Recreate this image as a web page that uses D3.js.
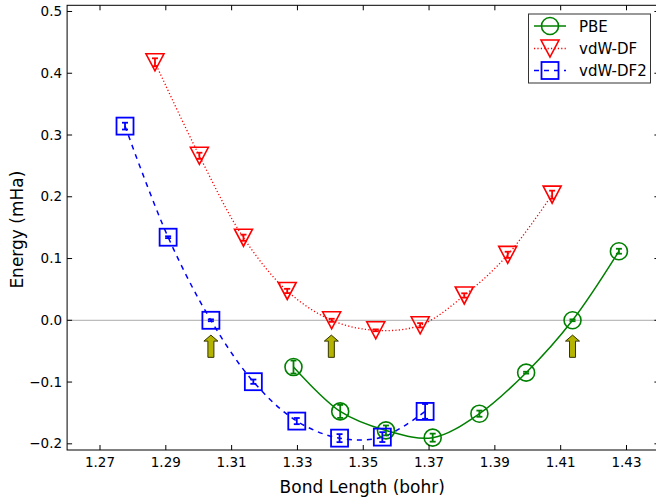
<!DOCTYPE html>
<html>
<head>
<meta charset="utf-8">
<script src="https://cdn.jsdelivr.net/npm/d3@7"></script>
<style>
  html, body { margin: 0; padding: 0; background: #fff; }
  svg { display: block; font-family: "DejaVu Sans", sans-serif; }
</style>
</head>
<body>
<div id="chart"></div>
<script>
// ---- data ----
const seriesNames = ["PBE", "vdW-DF", "vdW-DF2"];

const pbeX   = [1.3288, 1.3430, 1.3569, 1.3711, 1.3853, 1.3995, 1.4136, 1.4277];
const pbeY   = [-0.0757, -0.1475, -0.1783, -0.1900, -0.1512, -0.0848, 0.0000, 0.1118];
const pbeErr = [0.0105, 0.0105, 0.0080, 0.0065, 0.0050, 0.0015, 0.0015, 0.0040];

const vdwX   = [1.2867, 1.3002, 1.3136, 1.3269, 1.3404, 1.3538, 1.3673, 1.3807, 1.3939, 1.4074];
const vdwY   = [0.4177, 0.2663, 0.1337, 0.0475, 0.0000, -0.0162, -0.0081, 0.0402, 0.1060, 0.2034];
const vdwErr = [0.0065, 0.0050, 0.0050, 0.0035, 0.0025, 0.0015, 0.0035, 0.0035, 0.0050, 0.0065];

const vdw2X   = [1.2776, 1.2907, 1.3037, 1.3166, 1.3298, 1.3428, 1.3558, 1.3688];
const vdw2Y   = [0.3144, 0.1345, 0.0000, -0.0994, -0.1632, -0.1908, -0.1891, -0.1475];
const vdw2Err = [0.0055, 0.0015, 0.0015, 0.0035, 0.0050, 0.0065, 0.0080, 0.0120];

const arrowX = [1.3037, 1.3403, 1.4136];
const arrowTailY = -0.060;
const arrowHeadY = -0.024;

const xTicks = [1.27, 1.29, 1.31, 1.33, 1.35, 1.37, 1.39, 1.41, 1.43];
const yTicks = [-0.2, -0.1, 0.0, 0.1, 0.2, 0.3, 0.4, 0.5];
const xDomain = [1.26, 1.44];
const yDomain = [-0.21, 0.51];

(function () {
// ---- layout ----
const W = 656, H = 500;
const pL = 67.1, pR = 659.4, pT = 5.3, pB = 450;

const svg = d3.select("#chart").append("svg").attr("width", W).attr("height", H);

const x = d3.scaleLinear().domain(xDomain).range([pL, pR]);
const y = d3.scaleLinear().domain(yDomain).range([pB, pT]);

// zero line
svg.append("line")
  .attr("x1", pL).attr("x2", pR)
  .attr("y1", y(0)).attr("y2", y(0))
  .attr("stroke", "#aaaaaa").attr("stroke-width", 1);

const series = [
  { name: seriesNames[0], xs: pbeX, ys: pbeY, es: pbeErr, color: "#008000", dash: null, width: 1.5, marker: "circle" },
  { name: seriesNames[1], xs: vdwX, ys: vdwY, es: vdwErr, color: "#ff0000", dash: "1.2,2.2", width: 1.3, marker: "tri" },
  { name: seriesNames[2], xs: vdw2X, ys: vdw2Y, es: vdw2Err, color: "#0000ff", dash: "5,5", width: 1.5, marker: "square" }
];

const line = d3.line().x(d => x(d[0])).y(d => y(d[1])).curve(d3.curveCatmullRom.alpha(0.5));

function drawMarker(g, type, cx, cy, color) {
  if (type === "circle") {
    g.append("circle").attr("cx", cx).attr("cy", cy).attr("r", 8.5)
      .attr("fill", "none").attr("stroke", color).attr("stroke-width", 1.6);
  } else if (type === "square") {
    g.append("rect").attr("x", cx - 8.5).attr("y", cy - 8.5).attr("width", 17).attr("height", 17)
      .attr("fill", "none").attr("stroke", color).attr("stroke-width", 1.8);
  } else {
    const s = 9;
    g.append("path").attr("d", `M${cx - s},${cy - 8.5}L${cx + s},${cy - 8.5}L${cx},${cy + 8.5}Z`)
      .attr("fill", "none").attr("stroke", color).attr("stroke-width", 1.6).attr("stroke-linejoin", "miter");
  }
}

const plot = svg.append("g");
series.forEach(s => {
  const pts = s.xs.map((v, i) => [v, s.ys[i]]);
  plot.append("path").attr("d", line(pts))
    .attr("fill", "none").attr("stroke", s.color).attr("stroke-width", s.width)
    .attr("stroke-dasharray", s.dash);
});
series.forEach(s => {
  const g = plot.append("g");
  s.xs.forEach((v, i) => {
    const cx = x(v), cy = y(s.ys[i]);
    const y1 = y(s.ys[i] - s.es[i]), y2 = y(s.ys[i] + s.es[i]);
    g.append("line").attr("x1", cx).attr("x2", cx).attr("y1", y1).attr("y2", y2)
      .attr("stroke", s.color).attr("stroke-width", 1.8);
    [y1, y2].forEach(yy => g.append("line").attr("x1", cx - 3).attr("x2", cx + 3)
      .attr("y1", yy).attr("y2", yy).attr("stroke", s.color).attr("stroke-width", 1.8));
    drawMarker(g, s.marker, cx, cy, s.color);
  });
});

// arrows
arrowX.forEach(v => {
  const cx = x(v), yt = y(arrowTailY), yh = y(arrowHeadY);
  const hw = 7, sw = 3, hl = 6;
  const d = `M${cx - sw},${yt}L${cx - sw},${yh + hl}L${cx - hw},${yh + hl}L${cx},${yh}L${cx + hw},${yh + hl}L${cx + sw},${yh + hl}L${cx + sw},${yt}Z`;
  svg.append("path").attr("d", d).attr("fill", "#b4b400").attr("stroke", "#333300").attr("stroke-width", 1);
});

// axes frame
svg.append("rect").attr("x", pL).attr("y", pT).attr("width", pR - pL).attr("height", pB - pT)
  .attr("fill", "none").attr("stroke", "#000").attr("stroke-width", 1);

// ticks (inward)
const tl = 5;
xTicks.forEach(t => {
  const xx = x(t);
  svg.append("line").attr("x1", xx).attr("x2", xx).attr("y1", pB).attr("y2", pB - tl).attr("stroke", "#000");
  svg.append("line").attr("x1", xx).attr("x2", xx).attr("y1", pT).attr("y2", pT + tl).attr("stroke", "#000");
  svg.append("text").attr("x", xx).attr("y", 467).attr("text-anchor", "middle")
    .attr("font-size", 13.5).attr("fill", "#000").text(d3.format(".2f")(t));
});
yTicks.forEach(t => {
  const yy = y(t);
  svg.append("line").attr("x1", pL).attr("x2", pL + tl).attr("y1", yy).attr("y2", yy).attr("stroke", "#000");
  svg.append("line").attr("x1", pR).attr("x2", pR - tl).attr("y1", yy).attr("y2", yy).attr("stroke", "#000");
  svg.append("text").attr("x", pL - 5).attr("y", yy + 4.5).attr("text-anchor", "end")
    .attr("font-size", 13.5).attr("fill", "#000").text(d3.format(".1f")(t).replace("-", "\u2212"));
});

// axis titles
svg.append("text").attr("x", (pL + pR) / 2 - 1).attr("y", 493).attr("text-anchor", "middle")
  .attr("font-size", 17).attr("fill", "#000").text("Bond Length (bohr)");
svg.append("text").attr("transform", `translate(23,${(pT + pB) / 2 + 2}) rotate(-90)`)
  .attr("text-anchor", "middle").attr("font-size", 17).attr("fill", "#000").text("Energy (mHa)");

// legend
const lg = svg.append("g");
lg.append("rect").attr("x", 528.5).attr("y", 14).attr("width", 122).attr("height", 69)
  .attr("fill", "#fff").attr("stroke", "#333").attr("stroke-width", 1);
const legY = [26, 48.5, 70.5];
series.forEach((s, i) => {
  const yy = legY[i];
  lg.append("line").attr("x1", 534).attr("x2", 566).attr("y1", yy).attr("y2", yy)
    .attr("stroke", s.color).attr("stroke-width", s.width).attr("stroke-dasharray", s.dash);
  drawMarker(lg, s.marker, 550, yy, s.color);
  lg.append("text").attr("x", 579).attr("y", yy + 5.5).attr("font-size", 15).attr("fill", "#000").text(s.name);
});
})();
</script>
</body>
</html>
